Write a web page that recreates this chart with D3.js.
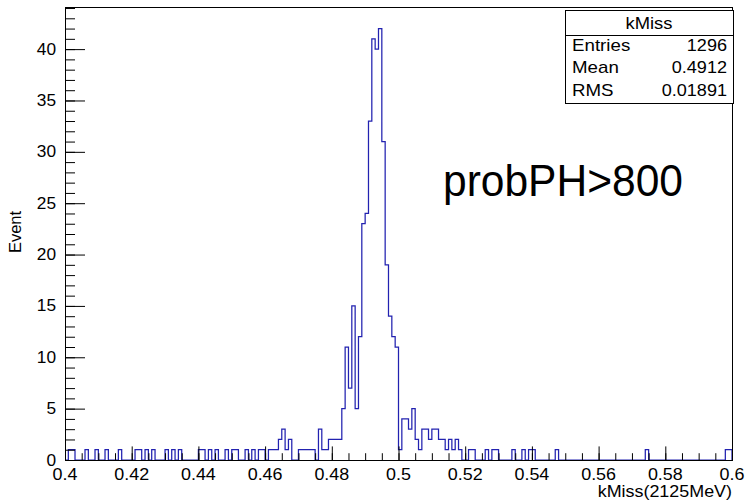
<!DOCTYPE html>
<html>
<head>
<meta charset="utf-8">
<script src="https://cdn.jsdelivr.net/npm/d3@7"></script>
<style>
  html, body { margin: 0; padding: 0; background: #fff; }
  svg { display: block; }
  text { font-family: "Liberation Sans", Arial, Helvetica, sans-serif; fill: #000; }
</style>
</head>
<body>
<svg id="chart" width="745" height="503"></svg>
<script>
// kMiss histogram: 200 bins from 0.40 to 0.60
const xRange = [0.4, 0.6];
const nBins = 200;
const binCounts = [
  0,1,1,0,0,0,1,0,0,1,0,0,1,0,0,0,1,0,0,0,
  0,1,1,0,1,0,1,0,0,0,1,0,1,0,1,0,0,0,0,0,
  1,1,0,1,0,1,0,0,1,0,1,1,0,0,1,0,1,0,1,1,
  0,1,1,1,2,3,1,2,0,0,1,1,1,1,1,0,3,1,1,2,
  2,2,2,5,11,7,15,5,12,23,24,33,41,40,42,31,19,14,12,11,
  1,4,4,3,5,2,1,3,3,2,3,3,2,2,1,2,1,2,1,0,
  0,1,1,0,0,0,1,0,1,1,0,0,0,0,1,0,0,1,0,1,
  1,0,0,0,0,0,0,1,0,0,0,0,0,0,0,0,0,0,0,0,
  0,0,0,0,0,0,0,0,0,0,0,0,0,0,1,0,0,0,0,0,
  0,0,0,0,0,0,0,0,0,0,0,0,0,0,0,0,0,0,1,1
];
const xTickValues = [0.4, 0.42, 0.44, 0.46, 0.48, 0.5, 0.52, 0.54, 0.56, 0.58, 0.6];
const xTickLabels = ["0.4", "0.42", "0.44", "0.46", "0.48", "0.5", "0.52", "0.54", "0.56", "0.58", "0.6"];
const yTickValues = [0, 5, 10, 15, 20, 25, 30, 35, 40];
const yMax = 44.1;

const xTitle = "kMiss(2125MeV)";
const yTitle = "Event";
const statsTitle = "kMiss";
const statNames = ["Entries", "Mean", "RMS"];
const statValues = ["1296", "0.4912", "0.01891"];
const noteText = "probPH>800";

const svg = d3.select("#chart");
const frame = { left: 65, right: 732, top: 7, bottom: 460 };
const TEXT_SX = 1.12;   // glyphs are drawn slightly wide

const x = d3.scaleLinear().domain(xRange).range([frame.left, frame.right]);
const y = d3.scaleLinear().domain([0, yMax]).range([frame.bottom, frame.top]);
const binWidth = (xRange[1] - xRange[0]) / nBins;

// text placed at (px, py) and widened horizontally around its anchor
function wideText(parent, px, py, str, size, anchor, sx) {
  return parent.append("text")
    .attr("transform", `translate(${px},${py}) scale(${sx || TEXT_SX},1)`)
    .attr("text-anchor", anchor || "start")
    .attr("font-size", size)
    .text(str);
}

// histogram outline as a step path
const pts = [[x(xRange[0]), y(0)]];
binCounts.forEach((c, i) => {
  const lo = xRange[0] + i * binWidth, hi = lo + binWidth;
  pts.push([x(lo), y(c)], [x(hi), y(c)]);
});
pts.push([x(xRange[1]), y(0)]);

svg.append("path")
  .attr("d", d3.line()(pts))
  .attr("fill", "none")
  .attr("stroke", "#2222b0")
  .attr("stroke-width", 1.25);

// frame box
svg.append("rect")
  .attr("x", frame.left + 0.5).attr("y", frame.top + 0.5)
  .attr("width", frame.right - frame.left).attr("height", frame.bottom - frame.top)
  .attr("fill", "none").attr("stroke", "#000").attr("stroke-width", 1);

const xTickLen = 0.03 * (frame.bottom - frame.top);
const yTickLen = 0.03 * (frame.right - frame.left);

// x axis: major ticks, minor ticks every 0.005
const xMinor = d3.range(0, 41).map(i => xRange[0] + i * 0.005);
svg.append("g")
  .attr("transform", `translate(0,${frame.bottom})`)
  .call(d3.axisBottom(x).tickValues(xMinor).tickSize(-xTickLen / 2).tickFormat(""))
  .call(g => g.select(".domain").remove());
const gx = svg.append("g")
  .attr("transform", `translate(0,${frame.bottom})`)
  .call(d3.axisBottom(x).tickValues(xTickValues).tickSize(-xTickLen).tickFormat(""))
  .call(g => g.select(".domain").attr("stroke", "#000"));
xTickValues.forEach((v, i) => wideText(gx, x(v), 20, xTickLabels[i], 16, "middle"));

// y axis: major every 5, minor every 1
const yMinor = d3.range(0, 45);
svg.append("g")
  .attr("transform", `translate(${frame.left},0)`)
  .call(d3.axisLeft(y).tickValues(yMinor).tickSize(-yTickLen / 2).tickFormat(""))
  .call(g => g.select(".domain").remove());
const gy = svg.append("g")
  .attr("transform", `translate(${frame.left},0)`)
  .call(d3.axisLeft(y).tickValues(yTickValues).tickSize(-yTickLen).tickFormat(""))
  .call(g => g.select(".domain").attr("stroke", "#000"));
yTickValues.forEach(v => wideText(gy, -9, y(v) + 5.5, String(v), 16, "end", 1.08));

// axis titles
wideText(svg, frame.right, 497, xTitle, 16, "end");
svg.append("text")
  .attr("transform", `translate(21,232) rotate(-90)`)
  .attr("text-anchor", "middle").attr("font-size", 16.5)
  .text(yTitle);

// statistics box
const box = { x: 565, y: 10, w: 168, h: 93, head: 25 };
const sb = svg.append("g");
sb.append("rect")
  .attr("x", box.x + 0.5).attr("y", box.y + 0.5)
  .attr("width", box.w).attr("height", box.h)
  .attr("fill", "#fff").attr("stroke", "#000");
sb.append("line")
  .attr("x1", box.x).attr("x2", box.x + box.w)
  .attr("y1", box.y + box.head + 0.5).attr("y2", box.y + box.head + 0.5)
  .attr("stroke", "#000");
wideText(sb, box.x + box.w / 2, box.y + 18.5, statsTitle, 16, "middle", 1.15);
statNames.forEach((name, i) => {
  const yy = box.y + box.head + 15.5 + i * 22.5;
  wideText(sb, box.x + 7, yy, name, 16, "start", 1.17);
  wideText(sb, box.x + box.w - 6, yy, statValues[i], 16, "end", 1.13);
});

// annotation
svg.append("text")
  .attr("x", 443).attr("y", 196)
  .attr("font-family", "Lato, 'Open Sans', sans-serif")
  .attr("font-size", 44)
  .attr("textLength", 240)
  .attr("lengthAdjust", "spacingAndGlyphs")
  .text(noteText);
</script>
</body>
</html>
